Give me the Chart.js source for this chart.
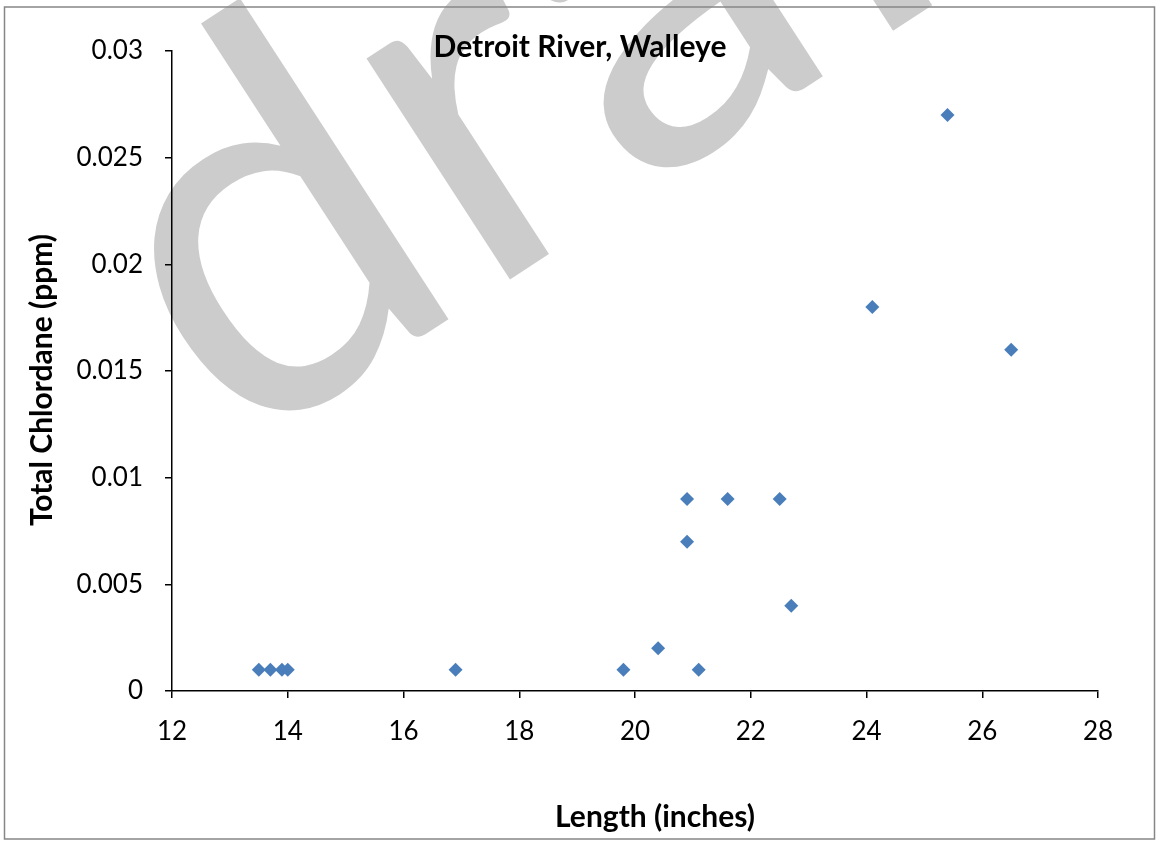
<!DOCTYPE html>
<html>
<head>
<meta charset="utf-8">
<script src="https://cdn.jsdelivr.net/npm/chart.js@4.4.1/dist/chart.umd.min.js"></script>
<style>
  html, body { margin: 0; padding: 0; background: #fff; }
  #wrap { width: 1156px; height: 842px; position: relative; }
</style>
</head>
<body>
<div id="wrap"><canvas id="chart"></canvas></div>
<script>
// ---------- Data ----------
const lengthInches = [13.5, 13.7, 13.9, 14.0, 16.9, 19.8, 20.4, 21.1, 20.9, 20.9, 21.6, 22.5, 22.7, 24.1, 25.4, 26.5];
const chlordanePpm = [0.001, 0.001, 0.001, 0.001, 0.001, 0.001, 0.002, 0.001, 0.009, 0.007, 0.009, 0.009, 0.004, 0.018, 0.027, 0.016];

const xTickValues = [12, 14, 16, 18, 20, 22, 24, 26, 28];
const yTickValues = [0, 0.005, 0.01, 0.015, 0.02, 0.025, 0.03];

const chartTitle = 'Detroit River, Walleye';
const xTitle     = 'Length (inches)';
const yTitle     = 'Total Chlordane (ppm)';
const watermark  = 'draft';

const FONT = 'Lato, "Open Sans", sans-serif';

// ---------- Plugins ----------
// white page, grey "draft" watermark and the outer border, under everything
const backdrop = {
  id: 'backdrop',
  beforeDraw(chart) {
    const ctx = chart.ctx;
    ctx.save();
    ctx.fillStyle = '#ffffff';
    ctx.fillRect(0, 0, chart.width, chart.height);

    ctx.save();
    ctx.translate(235, 458);
    ctx.rotate(-33 * Math.PI / 180);
    ctx.fillStyle = '#cccccc';
    ctx.font = '520px ' + FONT;
    ctx.textBaseline = 'alphabetic';
    ctx.fillText(watermark, 0, 0);
    ctx.restore();

    ctx.strokeStyle = '#868686';
    ctx.lineWidth = 1.5;
    ctx.strokeRect(4.5, 7, 1150, 832);
    ctx.restore();
  }
};

// chart title (inside the plot) and both axis titles
const labels = {
  id: 'labels',
  afterDraw(chart) {
    const ctx = chart.ctx;
    ctx.save();
    ctx.fillStyle = '#000';
    ctx.textAlign = 'center';
    ctx.textBaseline = 'middle';
    ctx.font = 'bold 30px ' + FONT;

    ctx.fillText(chartTitle, 580, 47);
    ctx.fillText(xTitle, 655, 817);

    ctx.translate(42, 380);
    ctx.rotate(-Math.PI / 2);
    ctx.fillText(yTitle, 0, 0);
    ctx.restore();
  }
};

// ---------- Chart ----------
const points = lengthInches.map((x, i) => ({ x, y: chlordanePpm[i] }));

new Chart(document.getElementById('chart'), {
  type: 'scatter',
  data: {
    datasets: [{
      data: points,
      pointStyle: 'rectRot',
      pointRadius: 7,
      pointHoverRadius: 7,
      backgroundColor: '#4a7ebb',
      borderColor: '#4a7ebb',
      borderWidth: 0,
    }],
  },
  options: {
    responsive: true,
    maintainAspectRatio: false,
    animation: false,
    layout: { padding: { top: 51, right: 58, left: 0, bottom: 0 } },
    plugins: {
      legend: { display: false },
      tooltip: { enabled: false },
    },
    scales: {
      x: {
        type: 'linear',
        min: xTickValues[0],
        max: xTickValues[xTickValues.length - 1],
        afterBuildTicks(scale) { scale.ticks = xTickValues.map(v => ({ value: v })); },
        afterFit(scale) { scale.height = 151; },
        border: { display: true, color: '#000', width: 1.5 },
        grid: { drawOnChartArea: false, tickLength: 7, color: '#000', lineWidth: 1.5 },
        ticks: { color: '#000', font: { family: FONT, size: 26 }, padding: 18, maxRotation: 0 },
      },
      y: {
        type: 'linear',
        min: yTickValues[0],
        max: yTickValues[yTickValues.length - 1],
        afterBuildTicks(scale) { scale.ticks = yTickValues.map(v => ({ value: v })); },
        afterFit(scale) { scale.width = 172; },
        border: { display: true, color: '#000', width: 1.5 },
        grid: { drawOnChartArea: false, tickLength: 7, color: '#000', lineWidth: 1.5 },
        ticks: {
          color: '#000',
          font: { family: FONT, size: 26 },
          padding: 22,
          callback: v => String(+v.toFixed(3)),
        },
      },
    },
  },
  plugins: [backdrop, labels],
});
</script>
</body>
</html>
